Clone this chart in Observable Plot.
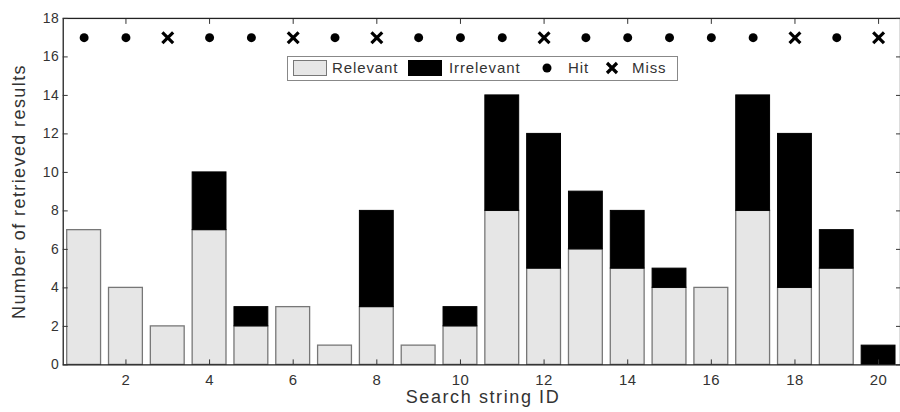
<!DOCTYPE html>
<html><head><meta charset="utf-8">
<script src="https://cdn.jsdelivr.net/npm/d3@7"></script>
<script src="https://cdn.jsdelivr.net/npm/@observablehq/plot@0.6"></script>
<style>
body{margin:0;background:#fff;font-family:"Liberation Sans",Arial,sans-serif;}
#wrap{position:relative;width:900px;height:412px;overflow:hidden;}
#legend{position:absolute;left:287px;top:56px;width:391px;height:25px;border:1.5px solid #888;background:#fff;box-sizing:border-box;font-size:15px;color:#333;letter-spacing:0.9px;}
#legend > *{position:absolute;}
#legend .sw{width:34px;height:16px;top:3px;box-sizing:border-box;}
#legend .t{top:2px;line-height:18px;}
.ylab{position:absolute;left:-131px;top:181px;width:300px;text-align:center;transform:rotate(-90deg);font-size:18px;color:#333;letter-spacing:1.4px;}
.xlab{position:absolute;left:0;width:966px;top:387px;text-align:center;font-size:18px;color:#333;letter-spacing:1.6px;}
</style></head>
<body><div id="wrap"></div>
<script>
const ids = [1,2,3,4,5,6,7,8,9,10,11,12,13,14,15,16,17,18,19,20];
const relevant   = [7,4,2,7,2,3,1,3,1,2,8,5,6,5,4,4,8,4,5,0];
const irrelevant = [0,0,0,3,1,0,0,5,0,1,6,7,3,3,1,0,6,8,2,1];
const outcome = ["Hit","Hit","Miss","Hit","Hit","Miss","Hit","Miss","Hit","Hit","Hit","Miss","Hit","Hit","Hit","Hit","Hit","Miss","Hit","Miss"];
const markerLevel = 17;
const xTicks = [2,4,6,8,10,12,14,16,18,20];
const yTicks = [0,2,4,6,8,10,12,14,16,18];

const rows = ids.map((id,i)=>({id, rel:relevant[i], irr:irrelevant[i], out:outcome[i]}));

const chart = Plot.plot({
  width: 904, height: 412,
  marginLeft: 63, marginRight: 0, marginTop: 18, marginBottom: 46,
  style: {fontFamily: '"Liberation Sans", Arial, sans-serif', fontSize: "15px", color:"#333", background:"#fff", letterSpacing:"0.5px"},
  x: {type:"band", domain: ids, paddingInner: 0.18, paddingOuter: 0.09, label: null},
  y: {domain:[0,18], label: null},
  marks: [
    Plot.barY(rows.filter(d=>d.rel>0), {x:"id", y1:0, y2:"rel", fill:"#e6e6e6", stroke:"#777", strokeWidth:1.3}),
    Plot.barY(rows.filter(d=>d.irr>0), {x:"id", y1:"rel", y2:d=>d.rel+d.irr, fill:"#000", stroke:"#000"}),
    Plot.dot(rows.filter(d=>d.out==="Hit"), {x:"id", y:()=>markerLevel, r:4.5, fill:"#000"}),
    Plot.dot(rows.filter(d=>d.out==="Miss"), {x:"id", y:()=>markerLevel, r:5, symbol:"times", stroke:"#000", strokeWidth:3.2}),
    Plot.frame({stroke:"#222", strokeWidth:1.3}),
    Plot.axisY({anchor:"left", ticks:yTicks, tickSize:-5, tickFormat:()=>"" , label:null}),
    Plot.axisY({anchor:"left", ticks:yTicks, tickSize:0, tickPadding:4, fontSize:14, label:null}),
    Plot.axisY({anchor:"right", ticks:yTicks, tickSize:-5, tickFormat:()=>"", label:null}),
    Plot.axisX({anchor:"bottom", ticks:xTicks, tickSize:-5, tickFormat:()=>"", label:null}),
    Plot.axisX({anchor:"bottom", ticks:xTicks, tickSize:0, tickPadding:10, fontSize:15, label:null}),
    Plot.axisX({anchor:"top", ticks:xTicks, tickSize:-5, tickFormat:()=>"", label:null})
  ]
});
const wrap = document.getElementById("wrap");
wrap.appendChild(chart);

const leg = document.createElement("div");
leg.id = "legend";
leg.innerHTML = `
<span class="sw" style="left:5px;background:#e6e6e6;border:1px solid #777"></span><span class="t" style="left:44px">Relevant</span>
<span class="sw" style="left:120px;background:#000"></span><span class="t" style="left:161px">Irrelevant</span>
<svg width="14" height="14" style="left:252px;top:4px"><circle cx="7" cy="7" r="4.5" fill="#000"/></svg><span class="t" style="left:280px">Hit</span>
<svg width="14" height="14" style="left:317px;top:4px"><path d="M2,2L12,12M12,2L2,12" stroke="#000" stroke-width="3.2"/></svg><span class="t" style="left:344px">Miss</span>`;
wrap.appendChild(leg);

const yl = document.createElement("div"); yl.className="ylab"; yl.textContent="Number of retrieved results"; wrap.appendChild(yl);
const xl = document.createElement("div"); xl.className="xlab"; xl.textContent="Search string ID"; wrap.appendChild(xl);
</script></body></html>
